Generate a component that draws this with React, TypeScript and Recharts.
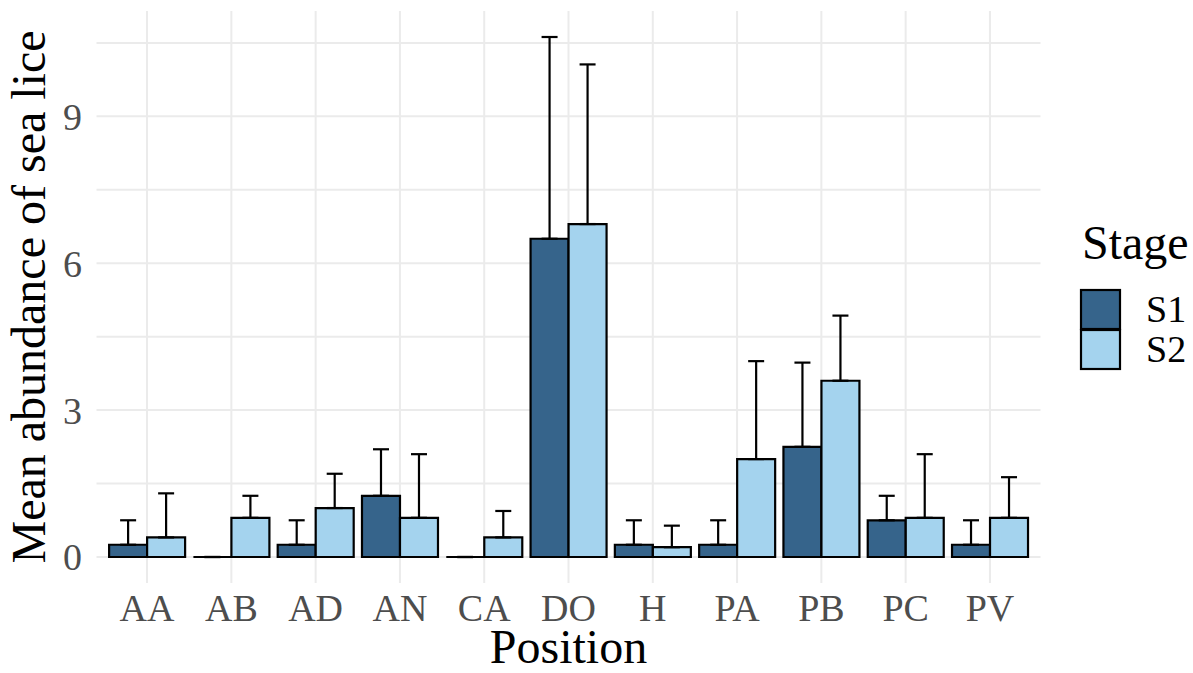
import { Bar, BarChart, CartesianGrid, ErrorBar, Legend, Text, XAxis, YAxis } from 'recharts'

const positions = ['AA', 'AB', 'AD', 'AN', 'CA', 'DO', 'H', 'PA', 'PB', 'PC', 'PV']
const s1Mean = [0.25, 0, 0.25, 1.25, 0, 6.5, 0.25, 0.25, 2.25, 0.75, 0.25]
const s1Upper = [0.75, 0, 0.75, 2.2, 0, 10.62, 0.75, 0.75, 3.97, 1.25, 0.75]
const s2Mean = [0.4, 0.8, 1.0, 0.8, 0.4, 6.8, 0.2, 2.0, 3.6, 0.8, 0.8]
const s2Upper = [1.3, 1.25, 1.7, 2.1, 0.94, 10.06, 0.64, 4.0, 4.93, 2.1, 1.63]
const yTicks = [0, 1.5, 3, 4.5, 6, 7.5, 9, 10.5]
const stages = [
  { key: 'S1', color: '#36648B' },
  { key: 'S2', color: '#A4D3EE' },
]

const data = positions.map((p, i) => ({
  position: p,
  S1: s1Mean[i],
  S2: s2Mean[i],
  S1err: [0, s1Upper[i] - s1Mean[i]],
  S2err: [0, s2Upper[i] - s2Mean[i]],
}))

const FONT = 'Liberation Serif'

// outlined bar that still shows a flat line when the value is 0
function OutlinedBar(props: any) {
  const { x, y, width, height, fill } = props
  if (x == null || y == null) return null
  const d = `M${x},${y}h${width}v${height}h${-width}Z`
  return <path d={d} fill={fill} stroke="#000" strokeWidth={2.2} />
}

function StageLegend() {
  return (
    <svg width={120} height={170} style={{ overflow: 'visible', display: 'block' }}>
      <Text x={7} y={44} fontSize={48} fontFamily={FONT} fill="#000">
        Stage
      </Text>
      {stages.map((s, i) => (
        <g key={s.key}>
          <rect x={6} y={75 + i * 40} width={39} height={39} fill={s.color} stroke="#000" strokeWidth={2.2} />
          <Text x={71} y={107 + i * 40} fontSize={38} fontFamily={FONT} fill="#000">
            {s.key}
          </Text>
        </g>
      ))}
    </svg>
  )
}

export default function App() {
  return (
    <div style={{ position: 'absolute', left: 0, top: 0, background: '#fff', fontFamily: FONT }}>
      <BarChart
        width={1193}
        height={673}
        data={data}
        margin={{ top: 11, right: 152.5, bottom: 0, left: 0 }}
        barCategoryGap="5%"
        barGap={0}
      >
        <CartesianGrid stroke="#EBEBEB" strokeWidth={2} syncWithTicks />
        <XAxis
          dataKey="position"
          height={90}
          padding={{ left: 8.4, right: 8.4 }}
          axisLine={false}
          tickLine={false}
          tickSize={6}
          tickMargin={5}
          tick={{ fill: '#4D4D4D', fontSize: 38, fontFamily: FONT }}
          interval={0}
          label={{ value: 'Position', position: 'insideBottom', offset: 10, fontSize: 48, fill: '#000', fontFamily: FONT }}
        />
        <YAxis
          width={96.5}
          type="number"
          domain={[-0.531, 11.151]}
          allowDataOverflow
          ticks={yTicks}
          interval={0}
          tickFormatter={(v: number) => (Number.isInteger(v) ? String(v) : '')}
          axisLine={false}
          tickLine={false}
          tickSize={6}
          tickMargin={8.5}
          tick={{ fill: '#4D4D4D', fontSize: 38, fontFamily: FONT }}
          label={{
            content: () => (
              <Text x={45} y={297} angle={-90} textAnchor="middle" fontSize={48} fontFamily={FONT} fill="#000">
                Mean abundance of sea lice
              </Text>
            ),
          }}
        />
        <Legend
          content={() => <StageLegend />}
          wrapperStyle={{ left: 1075, top: 215, width: 0, height: 0, overflow: 'visible' }}
          layout="vertical"
          align="right"
          verticalAlign="top"
        />
        {stages.map((s) => (
          <Bar key={s.key} dataKey={s.key} fill={s.color} isAnimationActive={false} shape={OutlinedBar}>
            <ErrorBar dataKey={`${s.key}err`} direction="y" width={8} stroke="#000" strokeWidth={2.2} />
          </Bar>
        ))}
      </BarChart>
    </div>
  )
}
